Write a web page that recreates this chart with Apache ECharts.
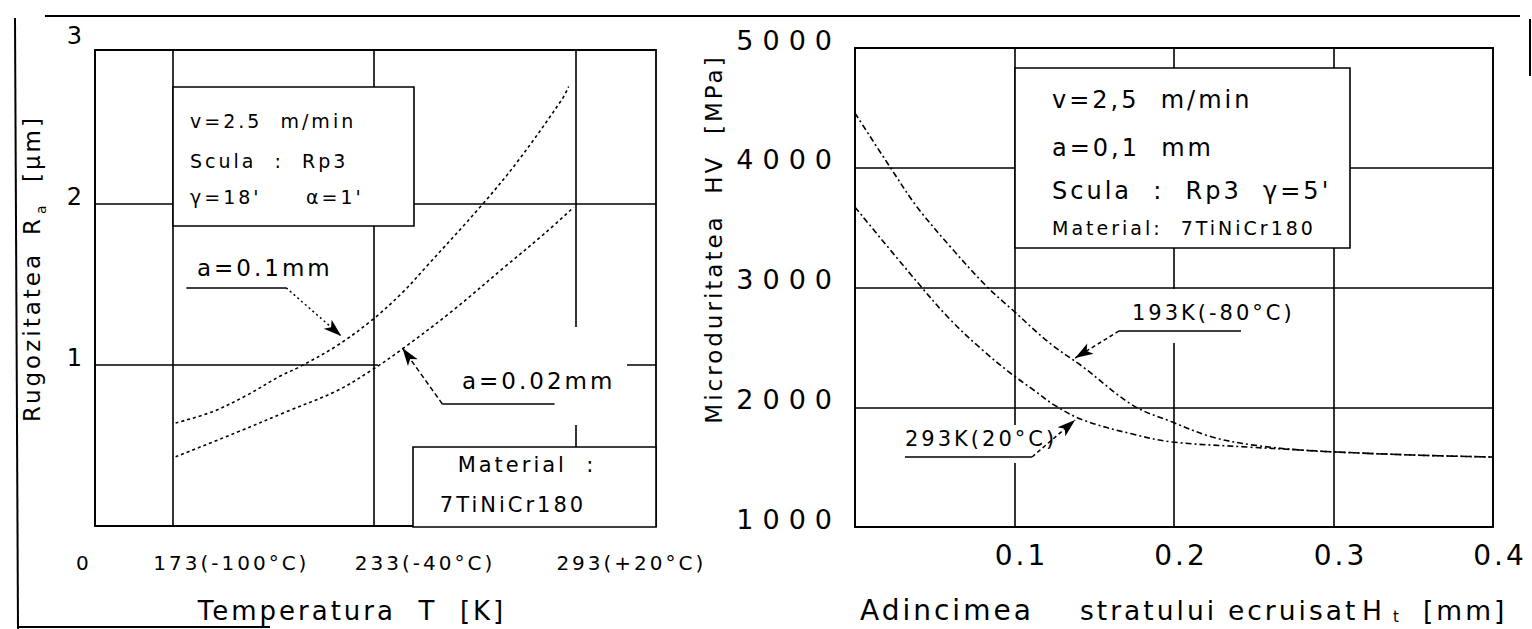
<!DOCTYPE html>
<html>
<head>
<meta charset="utf-8">
<script src="https://cdn.jsdelivr.net/npm/echarts@6/dist/echarts.min.js"></script>
<style>
  html, body { margin: 0; padding: 0; background: #fff; }
  #chart { width: 1532px; height: 629px; }
  /* wide plotter-like lettering */
  #chart text { letter-spacing: 3px; }
  #chart text[style*="27px"], #chart text[font-size="27"], #chart text[font-size="27px"] { letter-spacing: 9px; }
</style>
</head>
<body>
<div id="chart"></div>
<script>
// ---- Rugozitatea Ra vs temperatura ----
const tempTicks = [150, 173, 233, 293];
const tempTickLabels = ['0', '173(-100°C)', '233(-40°C)', '293(+20°C)'];
const raTicks = [1, 2, 3];
const raTickLabels = ['1', '2', '3'];

const feed01T  = [174, 185, 195, 205, 211, 222, 232.5, 241.5, 249, 265, 276, 289, 291];
const feed01Ra = [0.64, 0.71, 0.81, 0.93, 0.99, 1.12, 1.28, 1.45, 1.62, 1.99, 2.27, 2.65, 2.73];

const feed002T  = [174, 192, 207, 222, 232.5, 241.5, 256, 272, 284, 292.5];
const feed002Ra = [0.43, 0.58, 0.71, 0.84, 0.97, 1.10, 1.33, 1.61, 1.82, 1.98];

// ---- Microduritatea HV vs adincimea stratului ecruisat ----
const depthTicks = [0.1, 0.2, 0.3, 0.4];
const depthTickLabels = ['0.1', '0.2', '0.3', '0.4'];
const hvTicks = [1000, 2000, 3000, 4000, 5000];
const hvTickLabels = ['1000', '2000', '3000', '4000', '5000'];

const depth193 = [0, 0.022, 0.039, 0.06, 0.083, 0.099, 0.122, 0.143, 0.174, 0.199, 0.224, 0.25, 0.279, 0.302, 0.35, 0.4];
const hv193    = [4456, 4005, 3671, 3337, 3003, 2810, 2536, 2336, 2018, 1876, 1751, 1684, 1643, 1626, 1601, 1584];

const depth293 = [0, 0.039, 0.06, 0.08, 0.099, 0.112, 0.125, 0.143, 0.174, 0.199, 0.246, 0.279, 0.302, 0.35, 0.4];
const hv293    = [3671, 3045, 2728, 2477, 2269, 2144, 2018, 1893, 1776, 1710, 1668, 1643, 1626, 1601, 1584];

const FONT = 'DejaVu Sans';
const INK = '#000';

const pair = (xs, ys) => xs.map((x, i) => [x, ys[i]]);
const labelFor = (ticks, labels) => v => labels[ticks.findIndex(t => Math.abs(t - v) < 1e-9)] || '';

// leader line ending in an arrowhead
function lead(from, to, dash) {
  return [
    { coord: from, symbol: 'none', lineStyle: { color: INK, width: 1.5, type: dash } },
    { coord: to, symbol: 'arrow', symbolSize: [9, 18] }
  ];
}
// underline under a curve label
function rule(from, to) {
  return [
    { coord: from, symbol: 'none', lineStyle: { color: INK, width: 1.5, type: 'solid' } },
    { coord: to, symbol: 'none' }
  ];
}
function marks(lines) {
  return { silent: true, animation: false, z: 5, label: { show: false }, symbol: ['none', 'none'], data: lines };
}

const chart = echarts.init(document.getElementById('chart'), null, { renderer: 'svg', width: 1532, height: 629 });

const gridLine = { show: true, lineStyle: { color: INK, width: 1.6, type: 'solid' } };

chart.setOption({
  animation: false,
  backgroundColor: '#fff',
  grid: [
    { left: 95, top: 50, width: 561, height: 476, show: true, borderColor: INK, borderWidth: 1.8, outerBoundsMode: 'none' },
    { left: 855, top: 48, width: 638, height: 479, show: true, borderColor: INK, borderWidth: 1.8, outerBoundsMode: 'none' }
  ],
  xAxis: [
    {
      gridIndex: 0, type: 'value', min: 150, max: 317,
      axisLine: { show: false },
      axisTick: { show: false, customValues: tempTicks },
      axisLabel: { show: false, customValues: tempTicks },
      splitLine: gridLine
    },
    {
      gridIndex: 1, type: 'value', min: 0, max: 0.4, interval: 0.1,
      axisLine: { show: false },
      axisTick: { show: false },
      axisLabel: {
        customValues: depthTicks,
        formatter: labelFor(depthTicks, depthTickLabels),
        fontFamily: FONT, fontSize: 28, color: INK, margin: 14, padding: [0, 0, 0, 14]
      },
      splitLine: gridLine
    }
  ],
  yAxis: [
    {
      gridIndex: 0, type: 'value', min: 0, max: 2.957, interval: 1,
      axisLine: { show: false }, axisTick: { show: false }, axisLabel: { show: false },
      splitLine: gridLine
    },
    {
      gridIndex: 1, type: 'value', min: 1000, max: 5000, interval: 1000,
      axisLine: { show: false }, axisTick: { show: false },
      axisLabel: {
        customValues: hvTicks,
        formatter: labelFor(hvTicks, hvTickLabels),
        fontFamily: FONT, fontSize: 27, color: INK, margin: 14, verticalAlign: 'bottom', lineHeight: 16
      },
      splitLine: gridLine
    }
  ],
  series: [
    {
      name: 'a=0.1mm', type: 'line', xAxisIndex: 0, yAxisIndex: 0, z: 3,
      data: pair(feed01T, feed01Ra), showSymbol: false, smooth: 0.35,
      lineStyle: { color: INK, width: 1.6, type: [3, 3] },
      markLine: marks([
        rule([177.2, 1.48], [206.9, 1.48]),
        lead([206.9, 1.48], [223.3, 1.18], [2, 3])
      ])
    },
    {
      name: 'a=0.02mm', type: 'line', xAxisIndex: 0, yAxisIndex: 0, z: 3,
      data: pair(feed002T, feed002Ra), showSymbol: false, smooth: 0.35,
      lineStyle: { color: INK, width: 1.6, type: [3, 3] },
      markLine: marks([
        rule([253.4, 0.758], [286.8, 0.758]),
        lead([253.4, 0.758], [241.5, 1.106], [5, 3])
      ])
    },
    {
      name: '193K(-80°C)', type: 'line', xAxisIndex: 1, yAxisIndex: 1, z: 3,
      data: pair(depth193, hv193), showSymbol: false, smooth: 0.35,
      lineStyle: { color: INK, width: 1.6, type: [6, 3, 2, 3] },
      markLine: marks([
        rule([0.1655, 2637], [0.242, 2637]),
        lead([0.1655, 2637], [0.138, 2411], [4, 3])
      ])
    },
    {
      name: '293K(20°C)', type: 'line', xAxisIndex: 1, yAxisIndex: 1, z: 3,
      data: pair(depth293, hv293), showSymbol: false, smooth: 0.35,
      lineStyle: { color: INK, width: 1.6, type: [6, 3, 2, 3] },
      markLine: marks([
        rule([0.0313, 1585], [0.111, 1585]),
        lead([0.111, 1585], [0.138, 1893], [4, 3])
      ])
    }
  ]
});

// ---- frame, boxes and annotation text ----
function txt(text, x, y, size, align, rot) {
  return {
    type: 'text', z: 4, silent: true, x: x, y: y, rotation: rot || 0,
    style: { text: text, x: 0, y: 0, fill: INK, fontFamily: FONT, fontSize: size,
             textAlign: align || 'left', textVerticalAlign: 'middle' }
  };
}
function box(x, y, w, h, stroked) {
  return {
    type: 'rect', z: 1, silent: true,
    shape: { x: x, y: y, width: w, height: h },
    style: { fill: '#fff', stroke: stroked ? INK : null, lineWidth: stroked ? 1.6 : 0 }
  };
}
function seg(x1, y1, x2, y2, w) {
  return { type: 'line', z: 4, silent: true, shape: { x1, y1, x2, y2 }, style: { stroke: INK, lineWidth: w || 1.8 } };
}
const UP = Math.PI / 2;

const els = [
  // outer frame pieces
  seg(45, 16, 1520, 16, 2),
  seg(15, 18, 18, 629, 2),
  seg(18, 627, 270, 627, 2),
  seg(1530, 19, 1530, 76, 2),

  // left panel boxes
  box(173, 87, 241, 139, true),
  box(413, 447, 243, 80, true),
  box(378, 327, 249, 98, false),

  // right panel boxes
  box(1015, 68, 335, 180, true),
  box(1120, 289, 170, 54, false),
  box(898, 425, 145, 38, false),

  // left box text
  txt('v=2.5  m/min', 190, 121, 19),
  txt('Scula  :  Rp3', 190, 161, 19),
  txt("γ=18'", 190, 197, 19),
  txt("α=1'", 306, 197, 19),
  txt('Material  :', 527, 465, 21, 'center'),
  txt('7TiNiCr180', 513, 505, 21, 'center'),
  txt('a=0.1mm', 197, 268, 23),
  txt('a=0.02mm', 462, 381, 23),

  // right box text
  txt('v=2,5  m/min', 1052, 100, 24),
  txt('a=0,1  mm', 1052, 148, 24),
  txt("Scula  :  Rp3  γ=5'", 1052, 191, 24),
  txt('Material:  7TiNiCr180', 1052, 228, 19),
  txt('193K(-80°C)', 1132, 313, 21),
  txt('293K(20°C)', 905, 439, 21),

  // axis titles
  txt('Temperatura  T  [K]', 352, 611, 26, 'center'),

  txt('Adincimea', 860, 610, 28),
  txt('stratului', 1080, 610, 26.5),
  txt('ecruisat', 1228, 610, 26.5),
  txt('H', 1362, 610, 26.5),
  txt('t', 1393, 617, 15),
  txt('[mm]', 1423, 610, 26.5),

  txt('Rugozitatea', 32, 422, 23, 'left', UP),
  txt('R', 32, 235, 23, 'left', UP),
  txt('a', 41, 214, 14, 'left', UP),
  txt('[μm]', 32, 182, 23, 'left', UP),

  txt('Microduritatea  HV  [MPa]', 714, 239, 23, 'center', UP)
];

// tick labels of the left panel, placed from the axis scales
tempTicks.forEach((v, i) => {
  const px = chart.convertToPixel({ xAxisIndex: 0 }, v);
  els.push(txt(tempTickLabels[i], px - 19, 563, 20));
});
raTicks.forEach((v, i) => {
  const py = chart.convertToPixel({ yAxisIndex: 0 }, v);
  els.push(txt(raTickLabels[i], 85, py - 7, 24, 'right'));
});

chart.setOption({ graphic: { elements: els } });
</script>
</body>
</html>
